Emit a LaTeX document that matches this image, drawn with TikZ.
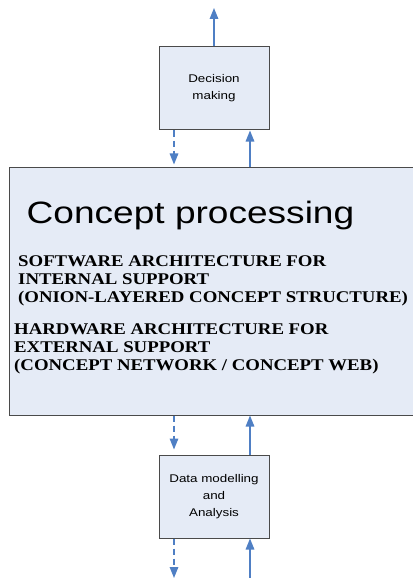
\documentclass[tikz,border=0pt]{standalone}
\usepackage{fontspec}
\setmainfont{Liberation Serif}
\newfontfamily\boxfont[FakeStretch=1.2]{Liberation Sans}
\newfontfamily\archfont[FakeStretch=1.15]{Liberation Serif}
\usepackage{tikz}
\usetikzlibrary{calc,positioning,arrows.meta}

\definecolor{boxfill}{HTML}{E5EBF6}
\definecolor{flowblue}{HTML}{4F7FC4}
\definecolor{boxline}{HTML}{4A4A4A}

\begin{document}
\begin{tikzpicture}
[x=1bp,y=-1bp]

    \tikzset{procbox/.style={draw=boxline,line width=1bp,fill=boxfill,
                             inner sep=0pt,align=center,
                             font=\boxfont\fontsize{11.2}{17}\selectfont},
             flow/.style={draw=flowblue,line width=1.5bp,
                          -{Triangle[length=11bp,width=8.5bp]}},
             dashflow/.style={flow,dash pattern=on 6bp off 4bp}}

    \useasboundingbox (0,0) rectangle (412,578);

    % the three boxes, top to bottom
    \node (dm) [procbox,minimum width=110bp,minimum height=83bp]
        at (214,88.5) {Decision\\making};
    \node (cp) [procbox,minimum width=404bp,minimum height=247bp]
        at (212,291.5) {};
    \node (da) [procbox,minimum width=110bp,minimum height=83bp]
        at (214,496.5) {Data modelling\\and\\Analysis};

    % texts inside the big box
    \node (title) [anchor=base,inner sep=0pt,
                   font=\boxfont\fontsize{31}{36}\selectfont]
        at (190.5,223) {Concept processing};
    \node (soft) [anchor=north west,inner sep=0pt,align=left,
                  font=\archfont\bfseries\fontsize{16.4}{18.3}\selectfont]
        at (18,255) {SOFTWARE ARCHITECTURE FOR\\INTERNAL SUPPORT\\
                       (ONION-LAYERED CONCEPT STRUCTURE)};
    \node (hard) [anchor=north west,inner sep=0pt,align=left,
                  font=\archfont\bfseries\fontsize{16.4}{18.3}\selectfont]
        at (14,323) {HARDWARE ARCHITECTURE FOR\\EXTERNAL SUPPORT\\
                       (CONCEPT NETWORK / CONCEPT WEB)};

    \coordinate (dashx) at (174,0);
    \coordinate (solidx) at (250,0);
    \coordinate (top) at (214,8);
    \coordinate (botdash) at (174,578);
    \coordinate (botsolid) at (250,578);

    % arrows
    \draw[flow] (dm.north) -- (top);
    \draw[dashflow,shorten >=3bp] (dm.south -| dashx) -- (cp.north -| dashx);
    \draw[flow] (cp.north -| solidx) -- (dm.south -| solidx);
    \draw[dashflow,shorten >=5bp] (cp.south -| dashx) -- (da.north -| dashx);
    \draw[flow] (da.north -| solidx) -- (cp.south -| solidx);
    \draw[dashflow] (da.south -| dashx) -- (botdash);
    \draw[flow] (botsolid) -- (da.south -| solidx);

\end{tikzpicture}
\end{document}
